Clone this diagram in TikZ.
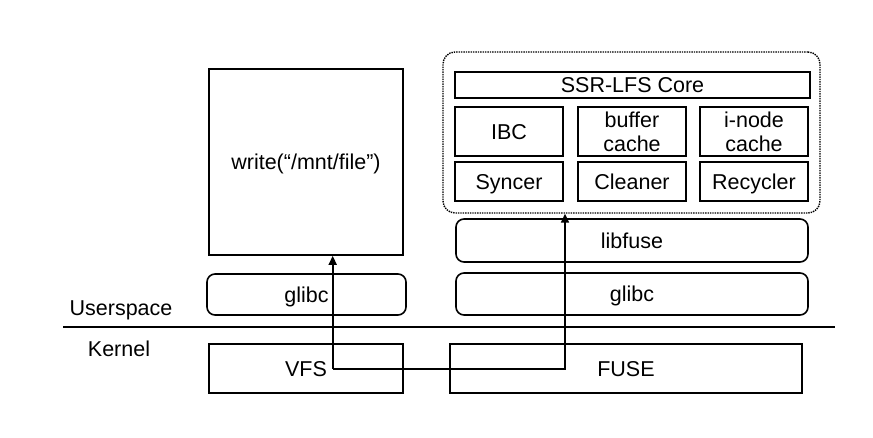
\documentclass[tikz,border=0pt]{standalone}
\usepackage{fontspec}
\setmainfont{Liberation Sans}
\usetikzlibrary{arrows.meta}
\begin{document}
\begin{tikzpicture}[x=1pt,y=-1pt,
  every node/.style={font=\fontsize{21.5}{24}\selectfont, inner sep=0pt, align=center},
  box/.style={draw, line width=1.6pt},
  one/.style={box, text height=15.5pt, text depth=0pt},
  rbox/.style={one, rounded corners=8pt},
  cont/.style={draw, line width=1.4pt, densely dotted, rounded corners=12pt},
  flow/.style={line width=1.6pt, -{Triangle[length=9pt,width=8pt]}},
  lbl/.style={anchor=base}]
\useasboundingbox (0,0) rectangle (873,437);
% left stack
\node[one, minimum width=194pt, minimum height=186pt] (write) at (306,162) {write(“/mnt/file”)};
\node[rbox, minimum width=199pt, minimum height=41pt] (glibcL) at (306.5,294.5) {glibc};
\node[one, minimum width=194pt, minimum height=49pt] (vfs) at (306,368.5) {VFS};
% right stack
\node[cont, minimum width=377pt, minimum height=161pt] (cont) at (631.5,132.5) {};
\node[one, minimum width=355pt, minimum height=26pt] (core) at (632.5,85) {SSR-LFS Core};
\node[one, minimum width=108pt, minimum height=49pt] (ibc) at (509,131.5) {IBC};
\node[box, minimum width=108pt, minimum height=49pt] (buf) at (632,131.5) {buffer\\cache};
\node[box, minimum width=108pt, minimum height=49pt] (inode) at (754,131.5) {i-node\\cache};
\node[one, minimum width=108pt, minimum height=39pt] (sync) at (509,181.5) {Syncer};
\node[one, minimum width=108pt, minimum height=39pt] (clean) at (632,181.5) {Cleaner};
\node[one, minimum width=108pt, minimum height=39pt] (recy) at (754,181.5) {Recycler};
\node[rbox, minimum width=352pt, minimum height=43pt] (libfuse) at (632,240.5) {libfuse};
\node[rbox, minimum width=352pt, minimum height=42pt] (glibcR) at (632,294) {glibc};
\node[one, minimum width=352pt, minimum height=49pt] (fuse) at (626,368.5) {FUSE};
% divider and labels
\coordinate (dl) at (63,327);
\coordinate (dr) at (835,327);
\draw[line width=1.8pt] (dl) -- (dr);
\node[lbl] (user) at (121,315) {Userspace};
\node[lbl] (kern) at (119,356.5) {Kernel};
% flow
\coordinate (j) at (332.7,369);
\coordinate (k) at (565,369);
\draw[flow] (j) -- (j |- write.south);
\draw[flow] (j) -- (k) -- (k |- cont.south);
\end{tikzpicture}
\end{document}
